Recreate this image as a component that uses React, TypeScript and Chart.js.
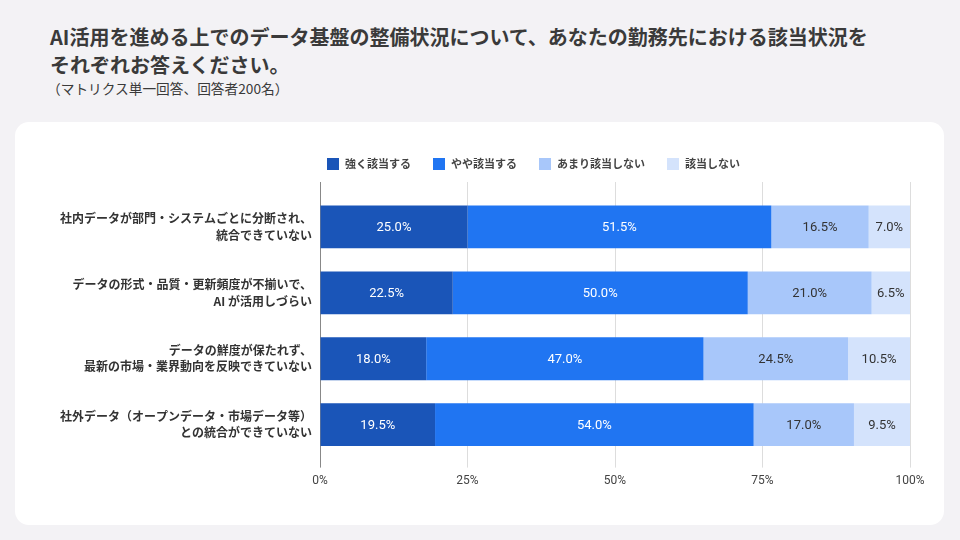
import React, { useEffect, useRef } from "react";
import { Chart, registerables } from "chart.js";

Chart.register(...registerables);

const categories: string[][] = [
  ["社内データが部門・システムごとに分断され、", "統合できていない"],
  ["データの形式・品質・更新頻度が不揃いで、", "AI が活用しづらい"],
  ["データの鮮度が保たれず、", "最新の市場・業界動向を反映できていない"],
  ["社外データ（オープンデータ・市場データ等）", "との統合ができていない"],
];

const seriesNames = ["強く該当する", "やや該当する", "あまり該当しない", "該当しない"];
const strongly = [25.0, 22.5, 18.0, 19.5];
const somewhat = [51.5, 50.0, 47.0, 54.0];
const notMuch = [16.5, 21.0, 24.5, 17.0];
const notAtAll = [7.0, 6.5, 10.5, 9.5];
const seriesColors = ["#1a55b8", "#2075f2", "#a8c7fa", "#d4e3fc"];
const labelColors = ["#ffffff", "#ffffff", "#333333", "#333333"];
const xTicks = [0, 25, 50, 75, 100];

const FONT = "'Noto Sans CJK JP', 'Noto Sans', sans-serif";
const NUMFONT = "Roboto, 'Noto Sans', sans-serif";

const legendPlugin = {
  id: "customLegend",
  afterDraw(chart: any) {
    const ctx = chart.ctx;
    const area = chart.chartArea;
    let x = area.left + 7;
    const y = 42;
    ctx.save();
    ctx.font = `bold 11px ${FONT}`;
    ctx.textBaseline = "middle";
    ctx.textAlign = "left";
    chart.data.datasets.forEach((ds: any) => {
      ctx.fillStyle = ds.backgroundColor;
      ctx.fillRect(x, y - 6, 12, 12);
      x += 12 + 6;
      ctx.fillStyle = "#444444";
      ctx.fillText(ds.label, x, y);
      x += ctx.measureText(ds.label).width + 22;
    });
    ctx.restore();
  },
};

const dataLabelPlugin = {
  id: "barValueLabels",
  afterDatasetsDraw(chart: any) {
    const ctx = chart.ctx;
    ctx.save();
    ctx.font = `400 13px ${NUMFONT}`;
    ctx.textAlign = "center";
    ctx.textBaseline = "middle";
    chart.data.datasets.forEach((ds: any, di: number) => {
      const meta = chart.getDatasetMeta(di);
      meta.data.forEach((bar: any, i: number) => {
        const v = ds.data[i];
        const cx = (bar.x + bar.base) / 2;
        ctx.fillStyle = labelColors[di];
        ctx.fillText(v.toFixed(1) + "%", cx, bar.y + 1);
      });
    });
    ctx.restore();
  },
};

function ChartCanvas() {
  const ref = useRef<HTMLCanvasElement | null>(null);
  useEffect(() => {
    if (!ref.current) return;
    const values = [strongly, somewhat, notMuch, notAtAll];
    const chart = new Chart(ref.current, {
      type: "bar",
      data: {
        labels: categories,
        datasets: seriesNames.map((name, i) => ({
          label: name,
          data: values[i],
          backgroundColor: seriesColors[i],
          borderWidth: 0,
          barPercentage: 0.65,
          categoryPercentage: 1,
        })),
      },
      options: {
        indexAxis: "y",
        animation: false,
        responsive: false,
        maintainAspectRatio: false,
        layout: { padding: { top: 60, right: 34, bottom: 31, left: 0 } },
        plugins: {
          legend: { display: false },
          tooltip: { enabled: false },
        },
        scales: {
          x: {
            type: "linear",
            position: "bottom",
            stacked: true,
            min: 0,
            max: 100,
            afterBuildTicks: (s: any) => {
              s.ticks = xTicks.map((v) => ({ value: v }));
            },
            ticks: {
              callback: (v: any) => v + "%",
              color: "#444444",
              font: { family: NUMFONT, size: 12 },
              padding: 6,
            },
            grid: {
              color: (c: any) => (c.index === 0 ? "#888888" : "#dddddd"),
              tickLength: 10,
            },
            border: { display: false },
          },
          x2: {
            type: "linear",
            position: "top",
            min: 0,
            max: 100,
            afterBuildTicks: (s: any) => {
              s.ticks = xTicks.map((v) => ({ value: v }));
            },
            ticks: { display: false },
            grid: {
              drawOnChartArea: false,
              color: (c: any) => (c.index === 0 ? "#888888" : "#dddddd"),
              tickLength: 12,
            },
            border: { display: false },
          },
          y: {
            type: "category",
            stacked: true,
            afterFit: (s: any) => {
              s.width = 305;
            },
            grid: { display: false, drawTicks: false },
            border: { display: true, color: "#888888", width: 1 },
            ticks: {
              color: "#333333",
              font: { family: FONT, size: 12, weight: "bold", lineHeight: 1.35 },
              padding: 8,
            },
          },
        },
      } as any,
      plugins: [legendPlugin, dataLabelPlugin],
    });
    return () => chart.destroy();
  }, []);
  return <canvas ref={ref} width={929} height={403} style={{ display: "block", width: 929, height: 403 }} />;
}

export default function App() {
  useEffect(() => {
    document.body.style.margin = "0";
  }, []);
  return (
    <div
      style={{
        position: "fixed",
        left: 0,
        top: 0,
        width: 960,
        height: 540,
        background: "#f3f2f5",
        fontFamily: FONT,
        overflow: "hidden",
      }}
    >
      <div
        style={{
          position: "absolute",
          left: 50,
          top: 23,
          fontSize: 20,
          lineHeight: "28px",
          fontWeight: 700,
          color: "#3a3a3a",
          whiteSpace: "nowrap",
        }}
      >
        AI活用を進める上でのデータ基盤の整備状況について、あなたの勤務先における該当状況を
        <br />
        それぞれお答えください。
      </div>
      <div
        style={{
          position: "absolute",
          left: 47,
          top: 79,
          fontSize: 13.7,
          lineHeight: "18px",
          color: "#3a3a3a",
          whiteSpace: "nowrap",
        }}
      >
        （マトリクス単一回答、回答者200名）
      </div>
      <div
        style={{
          position: "absolute",
          left: 15,
          top: 122,
          width: 929,
          height: 403,
          background: "#ffffff",
          borderRadius: 14,
          overflow: "hidden",
        }}
      >
        <ChartCanvas />
      </div>
    </div>
  );
}
